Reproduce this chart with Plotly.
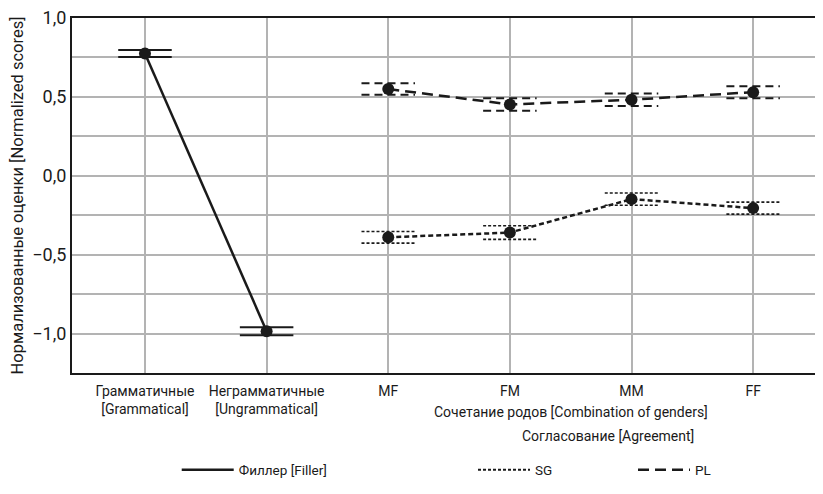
import plotly.graph_objects as go

# ---- data ----
x_labels = ["Грамматичные<br>[Grammatical]", "Неграмматичные<br>[Ungrammatical]",
            "MF", "FM", "MM", "FF"]
filler_x = [0, 1]
filler_y = [0.775, -0.985]
filler_err = [0.022, 0.025]

gender_x = [2, 3, 4, 5]
sg_y = [-0.390, -0.360, -0.148, -0.205]
sg_err = [0.037, 0.043, 0.039, 0.038]
pl_y = [0.550, 0.452, 0.482, 0.530]
pl_err = [0.036, 0.040, 0.040, 0.038]

y_tickvals = [-1.25, -1.0, -0.75, -0.5, -0.25, 0.0, 0.25, 0.5, 0.75, 1.0]
y_ticktext = ["", "\u22121,0", "", "\u22120,5", "", "0,0", "", "0,5", "", "1,0"]

FONT = "Roboto, sans-serif"
INK = "#1a1a1a"
CAP_HALF = 0.22

def caps(xs, ys, es):
    cx, cy = [], []
    for x, y, e in zip(xs, ys, es):
        cx += [x - CAP_HALF, x + CAP_HALF, None, x - CAP_HALF, x + CAP_HALF, None]
        cy += [y + e, y + e, None, y - e, y - e, None]
    return cx, cy

fig = go.Figure()

# error caps
for xs, ys, es, dash, w in [
    (filler_x, filler_y, filler_err, "solid", 2),
    (gender_x, sg_y, sg_err, "3px,2px", 1.6),
    (gender_x, pl_y, pl_err, "8px,5px", 2),
]:
    cx, cy = caps(xs, ys, es)
    fig.add_trace(go.Scatter(x=cx, y=cy, mode="lines", showlegend=False,
                             hoverinfo="skip",
                             line=dict(color=INK, width=w, dash=dash)))

# main lines with markers
marker = dict(color=INK, size=12)
fig.add_trace(go.Scatter(x=filler_x, y=filler_y, mode="lines+markers",
                         line=dict(color=INK, width=2.5, dash="solid"),
                         marker=marker, showlegend=False))
fig.add_trace(go.Scatter(x=gender_x, y=sg_y, mode="lines+markers",
                         line=dict(color=INK, width=2.5, dash="5px,3px"),
                         marker=marker, showlegend=False))
fig.add_trace(go.Scatter(x=gender_x, y=pl_y, mode="lines+markers",
                         line=dict(color=INK, width=2.5, dash="11px,6px"),
                         marker=marker, showlegend=False))

# legend entries
fig.add_trace(go.Scatter(x=[None], y=[None], mode="lines", name="Филлер [Filler]",
                         line=dict(color=INK, width=2.5), legend="legend"))
fig.add_trace(go.Scatter(x=[None], y=[None], mode="lines", name="SG",
                         line=dict(color=INK, width=2, dash="3px,2px"), legend="legend2"))
fig.add_trace(go.Scatter(x=[None], y=[None], mode="lines", name="PL",
                         line=dict(color=INK, width=2.5, dash="11px,6px"), legend="legend2"))

fig.add_annotation(x=3.5, y=0, xref="x", yref="paper", yshift=-39, yanchor="middle",
                   text="Сочетание родов [Combination of genders]", showarrow=False,
                   font=dict(size=14, color=INK, family=FONT))
fig.add_annotation(x=0.706, y=-0.177, xref="paper", yref="paper",
                   yanchor="middle", xanchor="center",
                   text="Согласование [Agreement]", showarrow=False,
                   font=dict(size=14, color=INK, family=FONT))

fig.update_layout(
    width=823, height=494,
    margin=dict(l=64, r=0, t=10, b=129, autoexpand=False),
    plot_bgcolor="white", paper_bgcolor="white",
    font=dict(family=FONT, color=INK, size=14),
    legend=dict(orientation="h", xref="container", yref="container",
                x=0.205, y=32 / 494, xanchor="left", yanchor="middle",
                itemwidth=52, font=dict(size=13.5), bgcolor="rgba(0,0,0,0)"),
    legend2=dict(orientation="h", xref="container", yref="container",
                 x=0.565, y=32 / 494, xanchor="left", yanchor="middle",
                 itemwidth=52, font=dict(size=13.5), bgcolor="rgba(0,0,0,0)",
                 entrywidth=93),
    xaxis=dict(range=[-0.6, 5.64], tickvals=list(range(6)), ticktext=x_labels,
               showgrid=True, gridcolor="#b3b3b3", gridwidth=1.5,
               showline=True, linecolor=INK, linewidth=2, mirror=True,
               ticks="", tickangle=0, tickfont=dict(size=14), zeroline=False,
               ticklabelstandoff=4),
    yaxis=dict(range=[-1.25, 1.0], tickvals=y_tickvals, ticktext=y_ticktext,
               showgrid=True, gridcolor="#b3b3b3", gridwidth=1.5,
               showline=True, linecolor=INK, linewidth=2,
               ticks="", tickfont=dict(size=18), zeroline=False,
               ticklabeloverflow="allow",
               title=dict(text="Нормализованные оценки [Normalized scores]",
                          font=dict(size=16.5), standoff=5)),
)

fig.write_html("out.html")
